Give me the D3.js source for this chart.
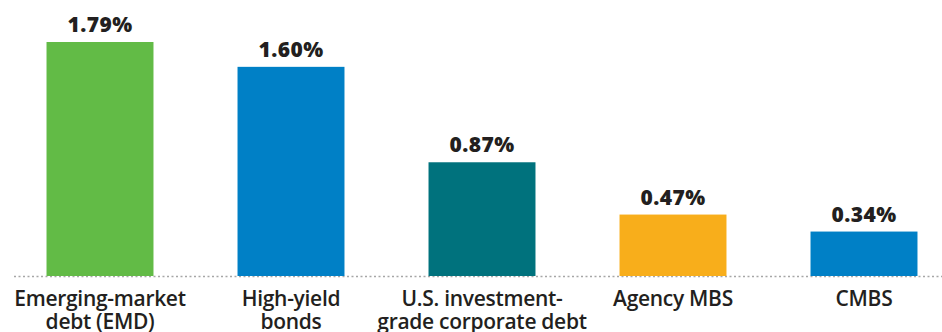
<!DOCTYPE html>
<html>
<head>
<meta charset="utf-8">
<script src="https://cdn.jsdelivr.net/npm/d3@7"></script>
<style>
  body { margin: 0; background: #fff; }
  svg { display: block; }
</style>
</head>
<body>
<div id="chart"></div>
<script>
// data
const categories = ['emd', 'hy', 'ig', 'mbs', 'cmbs'];
const labelLines = [
    ['Emerging-market', 'debt (EMD)'],
    ['High-yield', 'bonds'],
    ['U.S. investment-', 'grade corporate debt'],
    ['Agency MBS'],
    ['CMBS']
];
const values = [1.79, 1.60, 0.87, 0.47, 0.34];
const colors = ['#62bb46', '#0080c6', '#00727d', '#f8ae1b', '#0080c6'];

const width = 942;
const height = 332;
const baseline = 276;

const svg = d3.select('#chart')
    .append('svg')
    .attr('width', width)
    .attr('height', height);

const xScale = d3.scaleBand()
    .domain(categories)
    .range([4.5, 959.5])
    .paddingInner(0.44)
    .paddingOuter(0.22);

const yScale = d3.scaleLinear()
    .domain([0, 1.79])
    .range([baseline, 42]);

// dotted baseline
svg.append('line')
    .attr('x1', 14)
    .attr('x2', width)
    .attr('y1', baseline + 0.5)
    .attr('y2', baseline + 0.5)
    .attr('stroke', '#a6a6a6')
    .attr('stroke-width', 1.5)
    .attr('stroke-dasharray', '2,2.5');

// bars
svg.selectAll('rect.bar')
    .data(values)
    .enter()
    .append('rect')
    .attr('class', 'bar')
    .attr('x', (d, i) => xScale(categories[i]))
    .attr('y', d => yScale(d))
    .attr('width', xScale.bandwidth())
    .attr('height', d => baseline - yScale(d))
    .attr('fill', (d, i) => colors[i]);

// value labels
svg.selectAll('text.value')
    .data(values)
    .enter()
    .append('text')
    .attr('class', 'value')
    .attr('x', (d, i) => xScale(categories[i]) + xScale.bandwidth() / 2)
    .attr('y', d => yScale(d) - 10)
    .attr('text-anchor', 'middle')
    .attr('font-family', 'Open Sans, sans-serif')
    .attr('font-weight', 800)
    .attr('font-size', 21)
    .attr('letter-spacing', 0.4)
    .attr('fill', '#231f20')
    .text(d => d.toFixed(2) + '%');

// category labels
const cat = svg.selectAll('text.cat')
    .data(labelLines)
    .enter()
    .append('text')
    .attr('class', 'cat')
    .attr('text-anchor', 'middle')
    .attr('font-family', 'Open Sans, sans-serif')
    .attr('font-weight', 600)
    .attr('font-size', 21)
    .attr('letter-spacing', -0.3)
    .attr('fill', '#231f20');

cat.selectAll('tspan')
    .data((d, i) => d.map(t => ({ t, i })))
    .enter()
    .append('tspan')
    .attr('x', d => xScale(categories[d.i]) + xScale.bandwidth() / 2)
    .attr('y', (d, j) => 306 + j * 23)
    .text(d => d.t);
</script>
</body>
</html>
